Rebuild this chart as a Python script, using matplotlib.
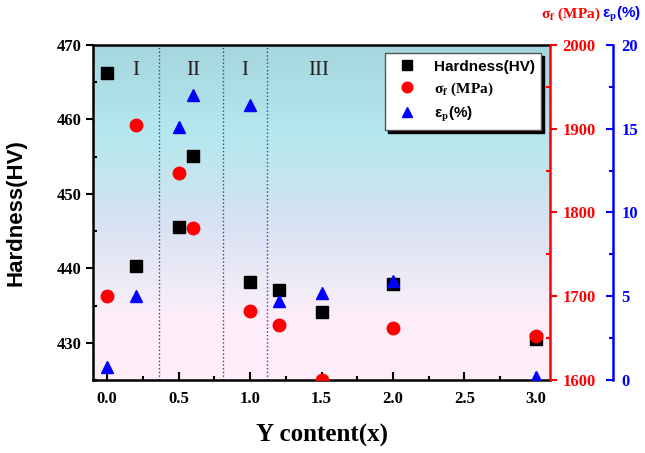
import numpy as np
import matplotlib
matplotlib.use('Agg')
import matplotlib.pyplot as plt
from matplotlib.colors import LinearSegmentedColormap
from matplotlib.ticker import MultipleLocator

# data
y_content = [0.0, 0.2, 0.5, 0.6, 1.0, 1.2, 1.5, 2.0, 3.0]
hardness = [466.2, 440.3, 445.6, 455.1, 438.1, 437.1, 434.2, 437.9, 430.5]
sigma_f = [1700, 1904, 1847, 1782, 1682, 1666, 1600, 1662, 1653]
eps_p = [0.8, 5.0, 15.1, 17.0, 16.4, 4.7, 5.2, 5.9, 0.2]

region_lines = [0.364, 0.81, 1.12]
region_x = [0.2, 0.6, 0.965, 1.48]
region_names = ['I', 'II', 'I', 'III']

# background gradient stops (HV value, colour)
bg_hv = [425, 434, 437, 441, 446, 452, 459, 462, 470]
bg_col = ['#fdeefa', '#fcedf9', '#f0ecf7', '#e6e7f5', '#d8e2f2',
          '#c4e5ef', '#b3e8ee', '#afe2e8', '#a6d6df']

plt.rcParams['mathtext.fontset'] = 'stix'
serif = 'Liberation Serif'
sans = 'Liberation Sans'

fig = plt.figure(figsize=(6.45, 4.53), dpi=100)
ax = fig.add_axes([0.144, 0.161, 0.709, 0.740])
ax.set_xlim(-0.1, 3.1)
ax.set_ylim(425, 470)

pos = [(v - 425) / 45 for v in bg_hv]
cmap = LinearSegmentedColormap.from_list('bg', list(zip(pos, bg_col)))
grad = np.linspace(0, 1, 256).reshape(-1, 1)
ax.imshow(grad, extent=[-0.1, 3.1, 425, 470], origin='lower', aspect='auto',
          cmap=cmap, zorder=0, interpolation='bilinear')

for xl in region_lines:
    ax.axvline(xl, color='#3a3aa8', ls=':', lw=1.0, zorder=1)
for xt, nm in zip(region_x, region_names):
    ax.text(xt, 466.6, nm, ha='center', va='center', fontsize=15,
            family=serif, color='#222222', zorder=2)

h1, = ax.plot(y_content, hardness, 's', color='black', ms=8, ls='none', zorder=3)

ax2 = ax.twinx()
ax2.set_ylim(1600, 2000)
h2, = ax2.plot(y_content, sigma_f, 'o', color='red', ms=9, ls='none')

ax3 = ax.twinx()
ax3.set_ylim(0, 20)
ax3.spines['right'].set_position(('axes', 1.138))
h3, = ax3.plot(y_content, eps_p, '^', color='blue', ms=9, ls='none')

# spines / ticks
for s in ['left', 'bottom', 'top']:
    ax.spines[s].set_linewidth(1.8)
ax.spines['right'].set_visible(False)
for a in (ax2, ax3):
    for s in ['left', 'bottom', 'top']:
        a.spines[s].set_visible(False)
ax2.spines['right'].set_color('red')
ax2.spines['right'].set_linewidth(1.8)
ax3.spines['right'].set_color('blue')
ax3.spines['right'].set_linewidth(1.8)

ax.xaxis.set_major_locator(MultipleLocator(0.5))
ax.xaxis.set_minor_locator(MultipleLocator(0.25))
ax.yaxis.set_major_locator(MultipleLocator(10))
ax.yaxis.set_minor_locator(MultipleLocator(5))
ax.tick_params(axis='x', which='both', direction='in', width=1.5, top=False)
ax.tick_params(axis='x', which='major', length=6, pad=8)
ax.tick_params(axis='x', which='minor', length=3)
ax.tick_params(axis='y', which='major', direction='out', length=5, width=1.5, pad=3)
ax.tick_params(axis='y', which='minor', direction='in', length=3, width=1.5)

ax2.yaxis.set_major_locator(MultipleLocator(100))
ax2.yaxis.set_minor_locator(MultipleLocator(50))
ax2.tick_params(axis='y', which='both', colors='red', width=1.5)
ax2.tick_params(axis='y', which='major', direction='out', length=5, pad=4)
ax2.tick_params(axis='y', which='minor', direction='in', length=3)

ax3.yaxis.set_major_locator(MultipleLocator(5))
ax3.yaxis.set_minor_locator(MultipleLocator(2.5))
ax3.tick_params(axis='y', which='both', colors='blue', direction='in', width=1.5)
ax3.tick_params(axis='y', which='major', length=5, pad=6)
ax3.tick_params(axis='y', which='minor', length=3)

for a in (ax, ax2, ax3):
    for lab in a.get_xticklabels() + a.get_yticklabels():
        lab.set_fontfamily(serif)
        lab.set_fontweight('bold')
        lab.set_fontsize(12)
for lab in ax2.get_yticklabels():
    lab.set_color('red')
for lab in ax3.get_yticklabels():
    lab.set_color('blue')

ax.set_xlabel('Y content(x)', family=serif, fontweight='bold', fontsize=18, labelpad=12)
ax.set_ylabel('Hardness(HV)', family=sans, fontweight='bold', fontsize=16, labelpad=22)

fig.text(0.885, 0.968, 'σ' + r'$_\mathbf{f}$' + ' (MPa)', color='red', family=serif,
         fontweight='bold', fontsize=11, ha='center', va='center')
fig.text(0.963, 0.968, 'ε' + r'$_\mathbf{p}$' + '(%)', color='blue', family=sans,
         fontweight='bold', fontsize=11, ha='center', va='center')

leg = ax3.legend([h1, h2, h3],
                 ['Hardness(HV)', 'σ' + r'$_\mathbf{f}$' + ' (MPa)', 'ε' + r'$_\mathbf{p}$' + '(%)'],
                 loc='upper right', bbox_to_anchor=(0.997, 0.997), fancybox=False,
                 framealpha=1, edgecolor='#555555', borderpad=0.4, labelspacing=0.45,
                 handletextpad=0.8, markerscale=0.85,
                 shadow={'color': 'black', 'alpha': 1.0, 'ox': 2, 'oy': -2},
                 prop={'family': sans, 'weight': 'bold', 'size': 11})
leg.get_texts()[1].set_fontfamily(serif)

fig.savefig('out.png', dpi=100)
